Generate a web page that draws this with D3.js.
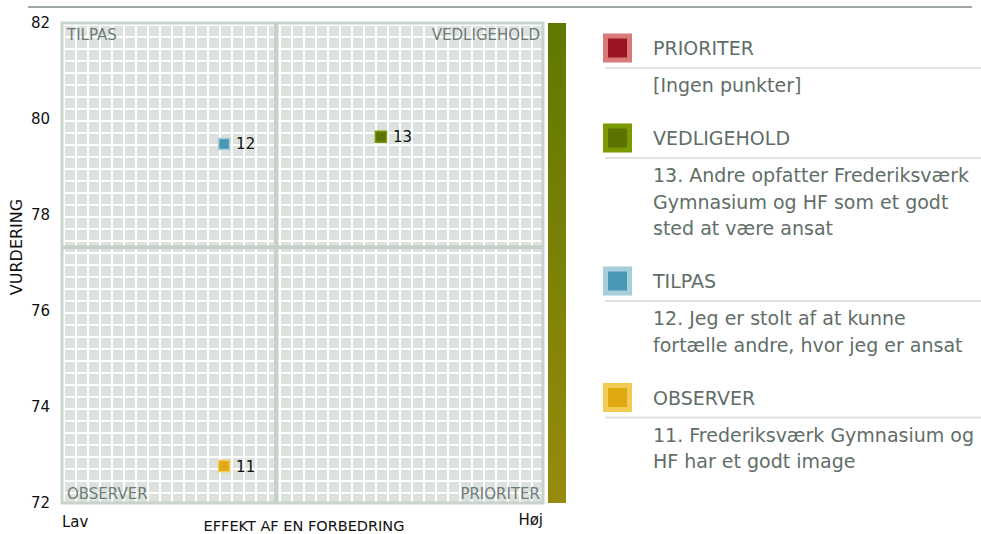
<!DOCTYPE html>
<html>
<head>
<meta charset="utf-8">
<script src="https://cdn.jsdelivr.net/npm/d3@7"></script>
<style>
  body { margin: 0; background: #fff; }
  svg { display: block; font-family: "DejaVu Sans", sans-serif; }
</style>
</head>
<body>
<div id="chart"></div>
<script>
// data
var yTicks = [72, 74, 76, 78, 80, 82];
var pointIds = ['11', '12', '13'];
var pointEffect = [0.337, 0.337, 0.663];
var pointScore = [72.77, 79.48, 79.63];
var pointGroup = ['OBSERVER', 'TILPAS', 'VEDLIGEHOLD'];
var pointText = [
  '11. Frederiksværk Gymnasium og HF har et godt image',
  '12. Jeg er stolt af at kunne fortælle andre, hvor jeg er ansat',
  '13. Andre opfatter Frederiksværk Gymnasium og HF som et godt sted at være ansat'
];
var legendGroups = ['PRIORITER', 'VEDLIGEHOLD', 'TILPAS', 'OBSERVER'];
var groupFill = {PRIORITER: '#9b1426', VEDLIGEHOLD: '#5c7300', TILPAS: '#4898b4', OBSERVER: '#e0a912'};
var groupEdge = {PRIORITER: '#d97a7a', VEDLIGEHOLD: '#7a9a00', TILPAS: '#a6cedb', OBSERVER: '#f2cb55'};
var crossEffect = 0.445;
var crossScore = 77.33;
var emptyText = '[Ingen punkter]';

var width = 981;
var height = 534;
var plot = {left: 62, right: 543, top: 23, bottom: 503};

var svg = d3.select('#chart').append('svg')
    .attr('width', width)
    .attr('height', height);

var x = d3.scaleLinear().domain([0, 1]).range([plot.left, plot.right]);
var y = d3.scaleLinear().domain([72, 82]).range([plot.bottom, plot.top]);

// top rule
svg.append('line')
    .attr('x1', 28).attr('x2', 972).attr('y1', 7).attr('y2', 7)
    .attr('stroke', '#7f8b85').attr('stroke-width', 1.5);

// cell pattern
var defs = svg.append('defs');
var pat = defs.append('pattern')
    .attr('id', 'cells')
    .attr('patternUnits', 'userSpaceOnUse')
    .attr('x', plot.left + 1).attr('y', plot.top + 1)
    .attr('width', 12).attr('height', 12);
pat.append('rect').attr('width', 12).attr('height', 12).attr('fill', '#fff');
pat.append('rect').attr('x', 2).attr('y', 2).attr('width', 10).attr('height', 10).attr('fill', '#dde2df');

var grad = defs.append('linearGradient')
    .attr('id', 'bar').attr('x1', 0).attr('x2', 0).attr('y1', 0).attr('y2', 1);
grad.append('stop').attr('offset', '0%').attr('stop-color', '#5f7800');
grad.append('stop').attr('offset', '100%').attr('stop-color', '#978b0c');

svg.append('rect')
    .attr('x', x(0)).attr('y', y(82))
    .attr('width', x(1) - x(0)).attr('height', y(72) - y(82))
    .attr('fill', 'url(#cells)')
    .attr('stroke', '#c8d3cb').attr('stroke-width', 3);

// cross lines
svg.append('line')
    .attr('x1', x(crossEffect)).attr('x2', x(crossEffect))
    .attr('y1', y(82)).attr('y2', y(72))
    .attr('stroke', '#c6d1c9').attr('stroke-width', 4);
svg.append('line')
    .attr('x1', x(0)).attr('x2', x(1))
    .attr('y1', y(crossScore)).attr('y2', y(crossScore))
    .attr('stroke', '#c6d1c9').attr('stroke-width', 4);

// gradient bar
svg.append('rect')
    .attr('x', 548).attr('y', y(82))
    .attr('width', 18).attr('height', y(72) - y(82))
    .attr('fill', 'url(#bar)');

// quadrant names
var qColor = '#6e7c75';
var quads = [
  {t: 'TILPAS', x: x(0) + 5, y: y(82) + 17, a: 'start'},
  {t: 'VEDLIGEHOLD', x: x(1) - 3, y: y(82) + 17, a: 'end'},
  {t: 'OBSERVER', x: x(0) + 5, y: y(72) - 4, a: 'start'},
  {t: 'PRIORITER', x: x(1) - 3, y: y(72) - 4, a: 'end'}
];
svg.selectAll('text.quad').data(quads).enter().append('text')
    .attr('class', 'quad')
    .attr('x', function(d) { return d.x; })
    .attr('y', function(d) { return d.y; })
    .attr('text-anchor', function(d) { return d.a; })
    .attr('fill', qColor)
    .attr('font-size', 15)
    .text(function(d) { return d.t; });

// y axis
var yAxis = svg.append('g')
    .attr('transform', 'translate(' + (plot.left - 2) + ',0)')
    .call(d3.axisLeft(y).tickValues(yTicks).tickSize(0).tickPadding(10));
yAxis.select('.domain').remove();
yAxis.selectAll('text')
    .attr('font-size', 15)
    .attr('font-family', '"DejaVu Sans", sans-serif')
    .attr('fill', '#111');

svg.append('text')
    .attr('transform', 'translate(22,247) rotate(-90)')
    .attr('text-anchor', 'middle')
    .attr('font-size', 16)
    .attr('fill', '#111')
    .text('VURDERING');

svg.append('text')
    .attr('x', x(0)).attr('y', 527)
    .attr('font-size', 15).attr('fill', '#111')
    .text('Lav');
svg.append('text')
    .attr('x', x(1)).attr('y', 525)
    .attr('text-anchor', 'end')
    .attr('font-size', 15).attr('fill', '#111')
    .text('Høj');
svg.append('text')
    .attr('x', 304).attr('y', 531)
    .attr('text-anchor', 'middle')
    .attr('font-size', 14.5).attr('fill', '#111')
    .text('EFFEKT AF EN FORBEDRING');

// points
var points = pointIds.map(function(id, i) {
    return {id: id, ex: pointEffect[i], sc: pointScore[i], g: pointGroup[i], text: pointText[i]};
});
var pg = svg.selectAll('g.pt').data(points).enter().append('g')
    .attr('class', 'pt')
    .attr('transform', function(d) { return 'translate(' + x(d.ex) + ',' + y(d.sc) + ')'; });
pg.append('rect')
    .attr('x', -5.5).attr('y', -5.5).attr('width', 11).attr('height', 11)
    .attr('fill', function(d) { return groupFill[d.g]; })
    .attr('stroke', function(d) { return groupEdge[d.g]; })
    .attr('stroke-width', 1.5);
pg.append('text')
    .attr('x', 12).attr('y', 5.5)
    .attr('font-size', 15).attr('fill', '#111')
    .text(function(d) { return d.id; });

// legend
var legX = 603;
var textX = 653;
var lineH = 26.5;
var maxW = 322;
var fs = 19;
var cy = 48;
var legend = svg.append('g');

function wrapLines(str) {
    var probe = legend.append('text').attr('font-size', fs);
    var words = str.split(' ');
    var lines = [];
    var cur = '';
    words.forEach(function(w) {
        var test = cur ? cur + ' ' + w : w;
        probe.text(test);
        if (probe.node().getComputedTextLength() > maxW && cur) {
            lines.push(cur);
            cur = w;
        } else {
            cur = test;
        }
    });
    if (cur) lines.push(cur);
    probe.remove();
    return lines;
}

legendGroups.forEach(function(g) {
    legend.append('rect')
        .attr('x', legX + 2.5).attr('y', cy - 12).attr('width', 24).attr('height', 24)
        .attr('fill', groupFill[g])
        .attr('stroke', groupEdge[g]).attr('stroke-width', 5);
    legend.append('text')
        .attr('x', textX).attr('y', cy + 7)
        .attr('font-size', fs).attr('fill', '#5f6e67')
        .text(g);
    legend.append('line')
        .attr('x1', legX + 2).attr('x2', width).attr('y1', cy + 20).attr('y2', cy + 20)
        .attr('stroke', '#e2e2e2').attr('stroke-width', 2);
    var items = points.filter(function(d) { return d.g === g; });
    var lines = [];
    if (items.length === 0) {
        lines = [emptyText];
    } else {
        items.forEach(function(d) { lines = lines.concat(wrapLines(d.text)); });
    }
    lines.forEach(function(l, i) {
        legend.append('text')
            .attr('x', textX).attr('y', cy + 44 + i * lineH)
            .attr('font-size', fs).attr('fill', '#5f6e67')
            .text(l);
    });
    cy += 44 + (lines.length - 1) * lineH + 46;
});
</script>
</body>
</html>
